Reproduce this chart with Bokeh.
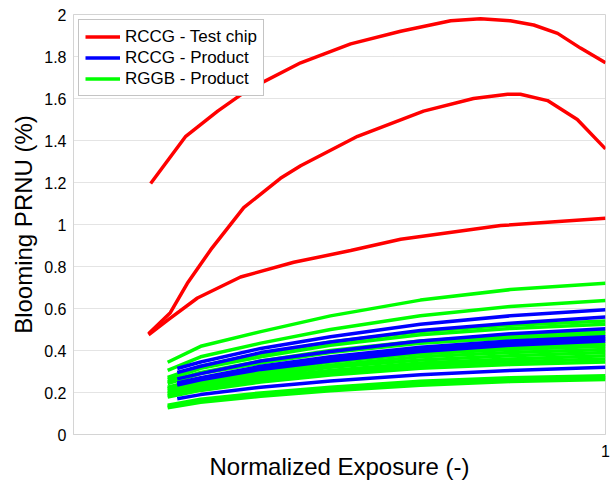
from bokeh.plotting import figure
from bokeh.models import Range1d, FixedTicker, Legend, LegendItem
from bokeh.embed import file_html
from bokeh.resources import INLINE

# ---- data ----
red1_x = [0.145, 0.211, 0.271, 0.327, 0.427, 0.521, 0.615, 0.709, 0.765, 0.821, 0.865, 0.910, 0.953, 1.0]
red1_y = [1.195, 1.42, 1.54, 1.64, 1.77, 1.86, 1.92, 1.97, 1.98, 1.97, 1.95, 1.91, 1.84, 1.77]

red2_x = [0.141, 0.182, 0.214, 0.258, 0.320, 0.389, 0.427, 0.534, 0.658, 0.752, 0.816, 0.840, 0.891, 0.947, 1.0]
red2_y = [0.48, 0.58, 0.72, 0.88, 1.08, 1.22, 1.28, 1.42, 1.54, 1.60, 1.62, 1.62, 1.59, 1.50, 1.36]

red3_x = [0.141, 0.177, 0.233, 0.314, 0.414, 0.521, 0.615, 0.803, 1.0]
red3_y = [0.475, 0.545, 0.65, 0.75, 0.82, 0.876, 0.93, 0.995, 1.03]

green_x = [0.177, 0.239, 0.352, 0.483, 0.652, 0.821, 1.0]
green_lines = [
    [0.344, 0.42, 0.49, 0.565, 0.64, 0.69, 0.72],
    [0.305, 0.37, 0.435, 0.50, 0.565, 0.61, 0.638],
    [0.272, 0.325, 0.385, 0.44, 0.49, 0.52, 0.54],
    [0.262, 0.315, 0.37, 0.425, 0.475, 0.505, 0.525],
    [0.25, 0.295, 0.35, 0.40, 0.445, 0.47, 0.49],
    [0.243, 0.29, 0.34, 0.39, 0.435, 0.46, 0.478],
    [0.225, 0.265, 0.31, 0.355, 0.395, 0.418, 0.432],
    [0.218, 0.26, 0.30, 0.345, 0.385, 0.405, 0.42],
    [0.21, 0.25, 0.29, 0.33, 0.37, 0.39, 0.405],
    [0.20, 0.24, 0.28, 0.32, 0.355, 0.375, 0.39],
    [0.193, 0.23, 0.27, 0.305, 0.34, 0.36, 0.375],
    [0.185, 0.22, 0.26, 0.295, 0.328, 0.347, 0.36],
    [0.178, 0.21, 0.25, 0.283, 0.315, 0.333, 0.345],
    [0.14, 0.168, 0.198, 0.225, 0.253, 0.27, 0.28],
    [0.133, 0.16, 0.19, 0.217, 0.243, 0.26, 0.27],
    [0.127, 0.153, 0.182, 0.208, 0.235, 0.252, 0.262],
]

blue_x = [0.195, 0.239, 0.352, 0.483, 0.652, 0.821, 1.0]
blue_lines = [
    [0.314, 0.345, 0.41, 0.465, 0.525, 0.565, 0.594],
    [0.295, 0.325, 0.39, 0.44, 0.495, 0.53, 0.559],
    [0.265, 0.29, 0.35, 0.395, 0.445, 0.48, 0.504],
    [0.245, 0.27, 0.325, 0.37, 0.415, 0.445, 0.465],
    [0.24, 0.265, 0.315, 0.36, 0.405, 0.435, 0.455],
    [0.235, 0.26, 0.31, 0.35, 0.395, 0.425, 0.445],
    [0.17, 0.19, 0.225, 0.255, 0.285, 0.305, 0.32],
]

y_ticks = [0, 0.2, 0.4, 0.6, 0.8, 1, 1.2, 1.4, 1.6, 1.8, 2]
y_tick_labels = ["0", "0.2", "0.4", "0.6", "0.8", "1", "1.2", "1.4", "1.6", "1.8", "2"]
x_ticks = [1]

FONT = "Liberation Sans"

p = figure(frame_width=532, frame_height=420, output_backend="svg", toolbar_location=None,
           x_range=Range1d(0, 1), y_range=Range1d(0, 2),
           min_border_left=73, min_border_right=5, min_border_top=14, min_border_bottom=48)

p.background_fill_color = "white"
p.border_fill_color = "white"
p.outline_line_color = "#d4d4d4"
p.outline_line_width = 1

red_r = p.multi_line([red1_x, red2_x, red3_x], [red1_y, red2_y, red3_y],
                     line_color="#ff0000", line_width=3.5)
green_r = p.multi_line([green_x] * len(green_lines), green_lines,
                       line_color="#00ff00", line_width=3.5)
blue_r = p.multi_line([blue_x] * len(blue_lines), blue_lines,
                      line_color="#0000ff", line_width=3.5)

legend = Legend(items=[
    LegendItem(label="RCCG - Test chip", renderers=[red_r]),
    LegendItem(label="RCCG - Product", renderers=[blue_r]),
    LegendItem(label="RGGB - Product", renderers=[green_r]),
], location="top_left")
legend.label_text_font = FONT
legend.label_text_font_size = "17px"
legend.label_text_color = "black"
legend.border_line_color = "#8a8a8a"
legend.border_line_width = 1
legend.background_fill_alpha = 1
legend.margin = 5
legend.padding = 6
legend.spacing = 0
legend.label_height = 21
legend.glyph_height = 21
legend.glyph_width = 35
legend.label_standoff = 5
p.add_layout(legend)

# axes
p.yaxis.ticker = FixedTicker(ticks=y_ticks)
p.yaxis.major_label_overrides = {t: l for t, l in zip(y_ticks, y_tick_labels)}
p.xaxis.ticker = FixedTicker(ticks=x_ticks)
p.xaxis.major_label_overrides = {1: "1"}
for ax in (p.xaxis, p.yaxis):
    ax.major_label_text_font = FONT
    ax.major_label_text_font_size = "16px"
    ax.major_label_text_color = "black"
    ax.axis_label_text_font = FONT
    ax.axis_label_text_font_size = "24px"
    ax.axis_label_text_font_style = "normal"
    ax.axis_label_text_color = "black"
    ax.axis_line_color = "#d4d4d4"
    ax.major_tick_line_color = None
    ax.minor_tick_line_color = None
p.xaxis.axis_label = "Normalized Exposure (-)"
p.yaxis.axis_label = "Blooming PRNU (%)"
p.xaxis.major_label_standoff = 4
p.xaxis.axis_label_standoff = -7
p.yaxis.major_label_standoff = 1
p.yaxis.axis_label_standoff = 4

p.xgrid.grid_line_color = None
p.ygrid.grid_line_color = "#c8c8c8"
p.ygrid.grid_line_dash = "1 1"
p.ygrid.grid_line_width = 1

open("out.html", "w").write(file_html(p, INLINE))
